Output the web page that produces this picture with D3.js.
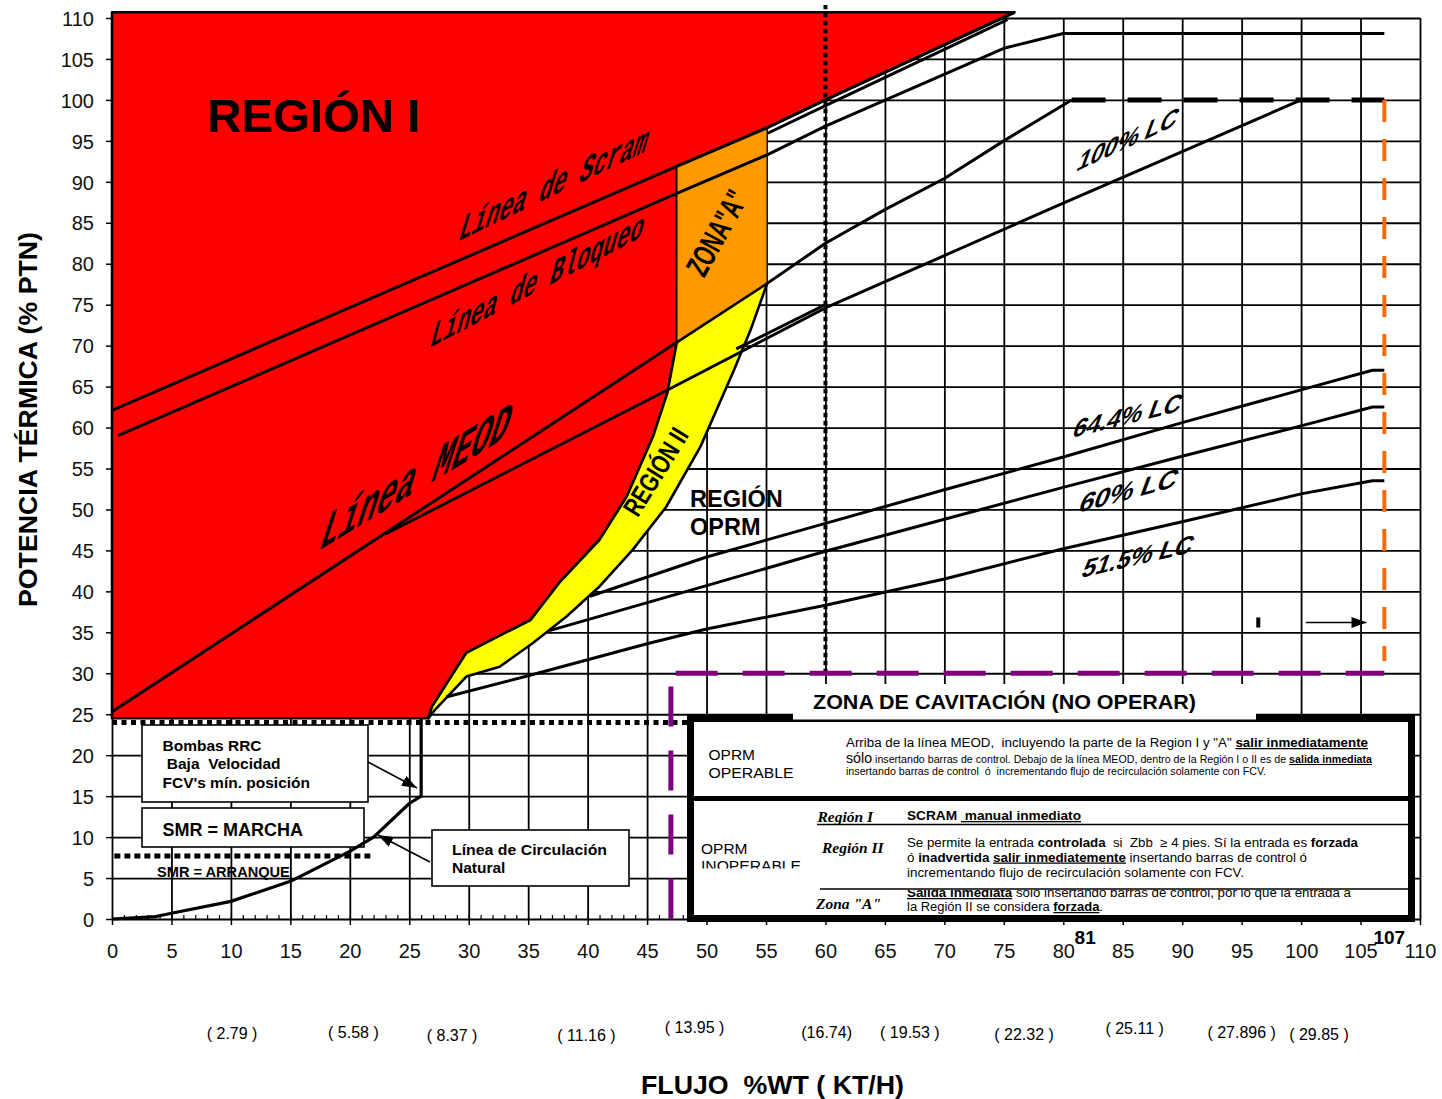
<!DOCTYPE html>
<html><head><meta charset="utf-8">
<script src="https://cdn.jsdelivr.net/npm/d3@7/dist/d3.min.js"></script>
<style>
body{margin:0;background:#fff;}
svg{display:block;}
text{white-space:pre;}
</style></head><body>
<svg id="chart" width="1442" height="1099"></svg>
<script>
// ---------------- data ----------------
const xTickValues=[0,5,10,15,20,25,30,35,40,45,50,55,60,65,70,75,80,85,90,95,100,105,110];
const yTickValues=[0,5,10,15,20,25,30,35,40,45,50,55,60,65,70,75,80,85,90,95,100,105,110];
const ktLabels=["( 2.79 )","( 5.58 )","( 8.37 )","( 11.16 )","( 13.95 )","(16.74)","( 19.53 )","( 22.32 )","( 25.11 )","( 27.896 )","( 29.85 )"];
const ktLabelFlow=[10.1,20.3,28.6,39.9,49.0,60.1,67.1,76.7,86.0,95.0,101.5];
const markedFlows=[81,107];
const regionITop=[[0,110.7],[75.9,110.7]];
const scramLine=[[0,62.1],[47.5,91.9],[55.1,96.6],[60,100],[75.9,110.7]];
const scramLine2=[[55.1,95.9],[60,99.3],[75.3,109.8]];
const bloqueoLine=[[0.5,59],[47.5,88.6],[55.1,93.3],[60,96.8],[75,106.3],[80,108.1],[107,108.1]];
const meodLine=[[0,25.3],[47.5,70.4]];
const meodBranch=[[23,47.0],[47,64.8],[60,74.6],[70,81.0],[80,87.4],[90,93.7],[100,100]];
const meodBranch2=[[52.5,69.6],[60,75.0]];
const lc100Line=[[55.1,77.6],[60,82.5],[65,86.6],[70,90.4],[75,95],[80.7,100]];
const lc100Flat=[[80.7,100],[107,100]];
const lc644Line=[[40.2,39.4],[50,44.2],[60,48.3],[70,52.4],[80,56.4],[90,60.6],[100,64.6],[106,67],[107,67]];
const lc60Line=[[36.8,35.2],[50,40.7],[60,44.9],[70,48.8],[80,52.7],[90,56.5],[100,60.2],[106,62.5],[107,62.5]];
const lc515Line=[[28.1,27.1],[35,29.7],[45,33.6],[50,35.4],[60,38.3],[70,41.5],[80,45.2],[90,48.5],[100,51.9],[106,53.5],[107,53.5]];
const regionIILeft=[[26.6,24.5],[26.9,25.9],[29.8,32.5],[32.2,34.3],[35.2,36.5],[37.7,41.2],[41.0,46.3],[43.3,51.6],[45.5,58.9],[46.7,64.2],[47.5,70.4]];
const regionIIRight=[[55.1,77.6],[53.7,71.9],[52.3,67.0],[49.5,57.7],[46.6,50.3],[43.8,45.1],[41.0,40.6],[38.2,36.9],[35.4,33.7],[32.6,30.8],[29.8,29.6],[27.2,25.6],[26.6,24.5]];
const zoneAEdges=[[47.5,70.4],[47.5,91.9],[55.1,96.6],[55.1,77.6]];
const naturalCirc=[[0,0],[3.7,0.3],[5,0.7],[10,2.15],[15,4.6],[20,8.25],[22,10],[25,14.1],[26,15],[26,24.5]];
const rrcMinLine=[[0,24.0],[59.7,24.0]];
const smrLine=[[0.2,7.7],[21.8,7.7]];
const flow60Line=[[60,30],[60,111.6]];
const cavitationH=[[47.4,30],[107,30]];
const cavitationV=[[47,28.4],[47,0]];
const maxFlowLine=[[107,100],[107,31.5]];
const arrowFlow=[[100.4,36.2],[105.5,36.2]];
const arrowTickFlow=[96.4,36.2];

// ---------------- setup ----------------
const svg=d3.select('#chart');
const x=d3.scaleLinear().domain([0,110]).range([112,1420]);
const y=d3.scaleLinear().domain([0,110]).range([919,18]);
const ln=d3.line().x(d=>x(d[0])).y(d=>y(d[1]));
const SANS="'Liberation Sans',Arial,sans-serif";
const NARROW="'Liberation Sans Narrow','Liberation Sans',Arial,sans-serif";
const MONO="'Liberation Mono','Courier New',monospace";
const SERIF="'Liberation Serif','Times New Roman',serif";

const defs=svg.append('defs');
defs.append('marker').attr('id','ah').attr('viewBox','0 0 10 10').attr('refX',10).attr('refY',5)
  .attr('markerWidth',15).attr('markerHeight',11).attr('markerUnits','userSpaceOnUse')
  .attr('preserveAspectRatio','none').attr('orient','auto')
  .append('path').attr('d','M0,0L10,5L0,10Z').attr('fill','#000');
defs.append('clipPath').attr('id','clipInop').append('rect').attr('x',694).attr('y',801).attr('width',120).attr('height',67.5);
defs.append('clipPath').attr('id','clipZonaA').append('rect').attr('x',900).attr('y',890).attr('width',500).attr('height',30);

// ---------------- grid ----------------
const gx=svg.append('g').attr('transform',`translate(0,${y(0)})`)
  .call(d3.axisBottom(x).tickValues(xTickValues).tickSize(-(y(0)-y(110))).tickFormat(''));
gx.select('.domain').remove();
gx.selectAll('line').attr('stroke','#000').attr('stroke-width',1.8);
const gy=svg.append('g').attr('transform',`translate(${x(0)},0)`)
  .call(d3.axisLeft(y).tickValues(yTickValues).tickSize(-(x(110)-x(0))).tickFormat(''));
gy.select('.domain').remove();
gy.selectAll('line').attr('stroke','#000').attr('stroke-width',1.8);

// minor ticks
const gm=svg.append('g').attr('transform',`translate(0,${y(0)})`)
  .call(d3.axisBottom(x).tickValues(d3.range(0,111,1)).tickSize(-4).tickFormat(''));
gm.select('.domain').remove();
gm.selectAll('line').attr('stroke','#000').attr('stroke-width',1.2);

// axes with labels
const ax=svg.append('g').attr('transform',`translate(0,${y(0)})`)
  .call(d3.axisBottom(x).tickValues(xTickValues).tickSize(6).tickPadding(19));
ax.select('.domain').remove();
ax.attr('font-size',20).attr('font-family',SANS);
ax.selectAll('line').attr('stroke','#000').attr('stroke-width',1.5);
ax.selectAll('text').attr('fill','#111');
const ay=svg.append('g').attr('transform',`translate(${x(0)},0)`)
  .call(d3.axisLeft(y).tickValues(yTickValues).tickSize(6).tickPadding(12));
ay.select('.domain').remove();
ay.attr('font-size',20).attr('font-family',SANS);
ay.selectAll('line').attr('stroke','#000').attr('stroke-width',1.5);
ay.selectAll('text').attr('fill','#111').attr('dy','0.36em');

// marked flows 81, 107
svg.selectAll('.mf').data(markedFlows).enter().append('text')
  .attr('x',(d,i)=>x(d)+(i===0?10:5)).attr('y',944).attr('text-anchor','middle')
  .attr('font-family',SANS).attr('font-weight','bold').attr('font-size',19).text(d=>d);

// secondary kt/h labels
const ktDy=[1039,1038,1041,1041,1033,1038,1038,1040,1034,1038,1040];
svg.selectAll('.kt').data(ktLabels).enter().append('text')
  .attr('x',(d,i)=>x(ktLabelFlow[i])).attr('y',(d,i)=>ktDy[i]).attr('text-anchor','middle')
  .attr('font-family',SANS).attr('font-size',16).text(d=>d);

// axis titles
svg.append('text').attr('transform','translate(37,419.5) rotate(-90)').attr('text-anchor','middle')
  .attr('font-family',SANS).attr('font-weight','bold').attr('font-size',25)
  .attr('textLength',375).attr('lengthAdjust','spacingAndGlyphs').text('POTENCIA TÉRMICA (% PTN)');
svg.append('text').attr('x',641).attr('y',1094)
  .attr('font-family',SANS).attr('font-weight','bold').attr('font-size',25)
  .attr('textLength',263).attr('lengthAdjust','spacingAndGlyphs').text('FLUJO  %WT ( KT/H)');

// ---------------- regions ----------------
const scramDown=scramLine.slice(1).reverse();
const regionIPoly=[...regionITop,...scramDown,...regionIILeft.slice().reverse(),[0,24.5]];
svg.append('path').attr('d',ln(regionIPoly)+'Z').attr('fill','#ff0000').attr('stroke','#000').attr('stroke-width',2.6).attr('stroke-linejoin','round');
svg.append('path').attr('d',ln(zoneAEdges)+'Z').attr('fill','#ff9900').attr('stroke','#000').attr('stroke-width',1.3);
svg.append('path').attr('d',ln([...regionIILeft,...regionIIRight])+'Z').attr('fill','#ffff00').attr('stroke','#000').attr('stroke-width',2.6).attr('stroke-linejoin','round');

// ---------------- lines ----------------
[scramLine,scramLine2,bloqueoLine,meodLine,meodBranch,meodBranch2,lc100Line,lc644Line,lc60Line,lc515Line].forEach(p=>{
  svg.append('path').attr('d',ln(p)).attr('fill','none').attr('stroke','#000').attr('stroke-width',3).attr('stroke-linejoin','round');
});
svg.append('path').attr('d',ln(lc100Flat)).attr('fill','none').attr('stroke','#000').attr('stroke-width',5).attr('stroke-dasharray','34,22');

// dotted lines
svg.append('path').attr('d',ln(rrcMinLine)).attr('stroke','#000').attr('stroke-width',5).attr('stroke-dasharray','5,4.5');
svg.append('path').attr('d',ln(smrLine)).attr('stroke','#000').attr('stroke-width',5).attr('stroke-dasharray','6,4');
svg.append('path').attr('d',ln(flow60Line)).attr('stroke','#000').attr('stroke-width',4).attr('stroke-dasharray','4.5,3.5');

// cavitation purple and max flow orange
svg.append('path').attr('d',ln(cavitationH)).attr('stroke','#800080').attr('stroke-width',5).attr('stroke-dasharray','42,25');
svg.append('path').attr('d',ln(cavitationV)).attr('stroke','#800080').attr('stroke-width',5).attr('stroke-dasharray','40,24');
svg.append('path').attr('d',ln(maxFlowLine)).attr('stroke','#ff6a00').attr('stroke-width',4).attr('stroke-dasharray','22,17');

// arrow at right
svg.append('rect').attr('x',x(arrowTickFlow[0])-2).attr('y',y(arrowTickFlow[1])-5).attr('width',4).attr('height',10).attr('fill','#000');
svg.append('path').attr('d',ln(arrowFlow)).attr('stroke','#000').attr('stroke-width',1.6).attr('marker-end','url(#ah)');

// ---------------- left boxes ----------------
function box(x0,y0,x1,y1){svg.append('rect').attr('x',x0).attr('y',y0).attr('width',x1-x0).attr('height',y1-y0).attr('fill','#fff').attr('stroke','#000').attr('stroke-width',1.6);}
box(142,725,368,802);
box(142,808,364,847);
box(432,830,629,886);
function lbl(t,px,py,size,opts={}){
  const e=svg.append('text').attr('x',px).attr('y',py).attr('font-family',opts.family||SANS).attr('font-size',size)
   .attr('font-weight',opts.w||'bold').attr('fill','#000').text(t);
  if(opts.len) e.attr('textLength',opts.len).attr('lengthAdjust','spacingAndGlyphs');
  if(opts.anchor) e.attr('text-anchor',opts.anchor);
  return e;
}
lbl('Bombas RRC',162.5,751,15.5);
lbl(' Baja  Velocidad',162.5,769,15.5);
lbl("FCV's mín. posición",162.5,788,15.5);
lbl('SMR = MARCHA',162.5,836,18);
lbl('SMR = ARRANQUE',157,877,14.6);
lbl('Línea de Circulación',452,855,15.5,{len:155});
lbl('Natural',452,873,15.5);
svg.append('line').attr('x1',368).attr('y1',762).attr('x2',417).attr('y2',788).attr('stroke','#000').attr('stroke-width',1.6).attr('marker-end','url(#ah)');
svg.append('line').attr('x1',430).attr('y1',862).attr('x2',378).attr('y2',835).attr('stroke','#000').attr('stroke-width',1.6).attr('marker-end','url(#ah)');

// natural circulation curve (over boxes)
svg.append('path').attr('d',ln(naturalCirc)).attr('fill','none').attr('stroke','#000').attr('stroke-width',3.2).attr('stroke-linejoin','round');

// ---------------- big info box ----------------
svg.append('rect').attr('x',690.5).attr('y',718.5).attr('width',721).attr('height',200).attr('fill','#fff').attr('stroke','#000').attr('stroke-width',7);
svg.append('line').attr('x1',687).attr('x2',1415).attr('y1',798.5).attr('y2',798.5).attr('stroke','#000').attr('stroke-width',5);
svg.append('line').attr('x1',817).attr('x2',1411).attr('y1',824.5).attr('y2',824.5).attr('stroke','#000').attr('stroke-width',1.6);
svg.append('line').attr('x1',820).attr('x2',1411).attr('y1',889).attr('y2',889).attr('stroke','#000').attr('stroke-width',1.6);
svg.append('rect').attr('x',793).attr('y',684).attr('width',463).attr('height',35.5).attr('fill','#fff');
lbl('ZONA DE CAVITACIÓN (NO OPERAR)',813,709,20,{len:383});

function rich(px,py,size,len,parts,opts={}){
  const t=svg.append('text').attr('x',px).attr('y',py).attr('font-family',opts.family||SANS).attr('font-size',size).attr('fill','#000');
  if(len) t.attr('textLength',len).attr('lengthAdjust','spacingAndGlyphs');
  if(opts.clip) t.attr('clip-path',`url(#${opts.clip})`);
  parts.forEach(p=>{const s=t.append('tspan').text(p.t); if(p.b) s.attr('font-weight','bold'); if(p.u) s.attr('text-decoration','underline'); if(p.s) s.attr('font-size',p.s);});
  return t;
}
lbl('OPRM',708.5,760,15.5,{w:'normal'});
lbl('OPERABLE',708.5,777.5,15.5,{w:'normal',len:85});
rich(846,747,12.5,522,[{t:'Arriba de la línea MEOD,  incluyendo la parte de la Region I y "A" '},{t:'salir inmediatamente',b:1,u:1}]);
rich(846,763,10.5,526,[{t:'sólo',s:14},{t:' insertando barras de control. Debajo de la línea MEOD, dentro de la Región I o II es de '},{t:'salida inmediata',b:1,u:1}]);
rich(846,774.5,10.5,420,[{t:'insertando barras de control  ó  incrementando flujo de recirculación solamente con FCV.'}]);

lbl('OPRM',701,854,15.5,{w:'normal'});
lbl('INOPERABLE',701,871,15.5,{w:'normal',len:100}).attr('clip-path','url(#clipInop)');
lbl('Región I',817.5,821.5,15.5,{family:SERIF}).attr('font-style','italic');
lbl('Región II',822,853,15.5,{family:SERIF}).attr('font-style','italic');
lbl('Zona "A"',816,909,15.5,{family:SERIF}).attr('font-style','italic');
rich(907,820,13,174,[{t:'SCRAM ',b:1},{t:' manual inmediato',b:1,u:1}]);
rich(907,846.5,12.5,451,[{t:'Se permite la entrada '},{t:'controlada',b:1},{t:'  si  Zbb  ≥ 4 pies. Sí la entrada es '},{t:'forzada',b:1}]);
rich(907,861.5,12.5,400,[{t:'ó '},{t:'inadvertida',b:1},{t:' '},{t:'salir inmediatemente',b:1,u:1},{t:' insertando barras de control ó'}]);
rich(907,876.5,12.5,337,[{t:'incrementando flujo de recirculación solamente con FCV.'}]);
rich(907,897,12.5,444,[{t:'Salida inmediata',b:1,u:1},{t:' solo insertando barras de control, por lo que la entrada a'}],{clip:'clipZonaA'});
rich(907,911,12.5,196,[{t:'la Región II se considera '},{t:'forzada',b:1,u:1},{t:'.'}]);

// ---------------- region labels ----------------
lbl('REGIÓN I',207,132,46,{len:213});
lbl('REGIÓN',690,507,23.5);
lbl('OPRM',690,534.5,23.5);

function wordArt(t,px,py,size,theta,lean,stretch,family,weight,len){
  const th=theta*Math.PI/180, l=lean*Math.PI/180;
  const a=Math.cos(th), b=-Math.sin(th), c=-stretch*Math.sin(l), d=stretch*Math.cos(l);
  const e=svg.append('text').attr('transform',`matrix(${a},${b},${c},${d},${px},${py})`)
    .attr('font-family',family).attr('font-size',size).attr('font-weight',weight).attr('fill','#000').text(t);
  if(len) e.attr('textLength',len).attr('lengthAdjust','spacingAndGlyphs');
  return e;
}
wordArt('Línea de Scram',456.7,241.7,24.8,25.6,17,1.7,MONO,'bold',208);
wordArt('Línea de Bloqueo',428.3,348.3,25.1,27.6,15,1.6,MONO,'bold',240);
wordArt('Línea MEOD',316.7,551.7,37,31.2,18,1.65,MONO,'bold',220);
wordArt('100% LC',1075,172,26,25,20,1.15,SANS,'bold',110);
wordArt('64.4% LC',1071,438,25,14,20,1.12,SANS,'bold',111);
wordArt('60% LC',1077,513,26,15,20,1.12,SANS,'bold',101);
wordArt('51.5% LC',1080,578,25,13,20,1.12,SANS,'bold',113);

svg.append('text').attr('transform','translate(717,233) rotate(-61)').attr('text-anchor','middle').attr('dominant-baseline','central')
  .attr('font-family',NARROW).attr('font-weight','bold').attr('font-size',32).attr('textLength',92).attr('lengthAdjust','spacingAndGlyphs').text('ZONA"A"');
svg.append('text').attr('transform','translate(656,472) rotate(-58)').attr('text-anchor','middle').attr('dominant-baseline','central')
  .attr('font-family',NARROW).attr('font-weight','bold').attr('font-size',27).attr('textLength',98).attr('lengthAdjust','spacingAndGlyphs').text('REGIÓN II');
</script>
</body></html>
